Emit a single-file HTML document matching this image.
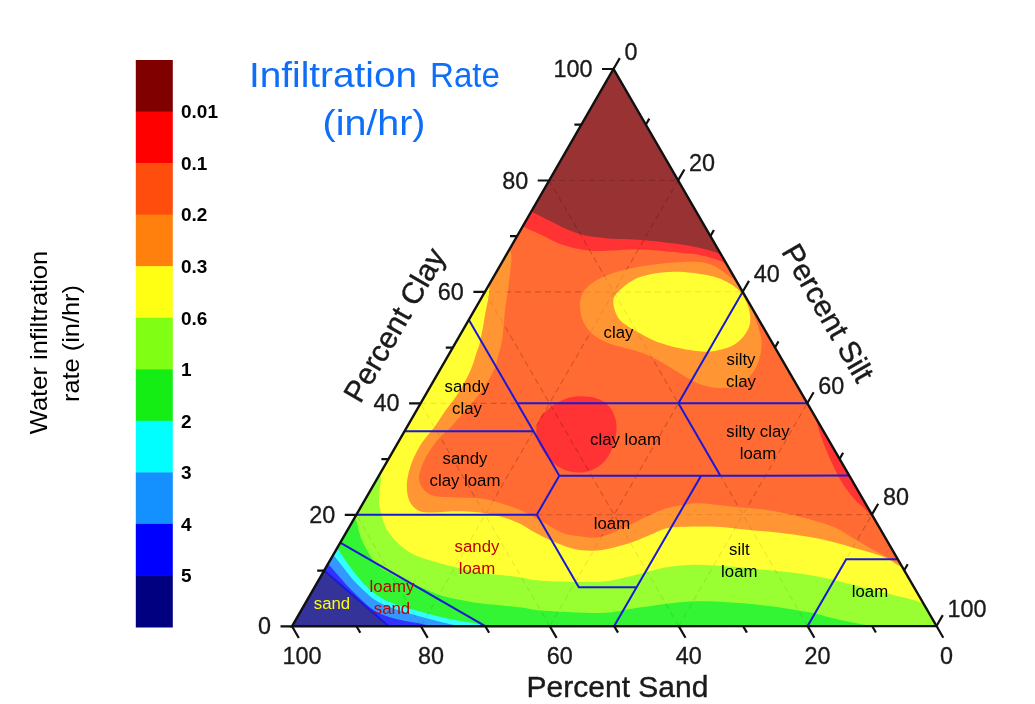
<!DOCTYPE html>
<html lang="en"><head><meta charset="utf-8"><title>Infiltration Rate (in/hr)</title>
<style>html,body{margin:0;padding:0;background:#fff}body{width:1035px;height:704px;overflow:hidden}svg{display:block}text{font-family:"Liberation Sans",sans-serif}</style></head><body>
<svg width="1035" height="704" viewBox="0 0 1035 704">
<rect width="1035" height="704" fill="#fff"/>
<defs><clipPath id="tri"><path d="M292,626.3 L936.5,626 L613.5,69 Z"/></clipPath></defs>
<rect x="135.8" y="60" width="37" height="52" fill="#800000"/>
<rect x="135.8" y="111.5" width="37" height="52" fill="#ff0000"/>
<rect x="135.8" y="163.1" width="37" height="52" fill="#ff4d0d"/>
<rect x="135.8" y="214.6" width="37" height="52" fill="#ff800d"/>
<rect x="135.8" y="266.2" width="37" height="52" fill="#ffff14"/>
<rect x="135.8" y="317.7" width="37" height="52" fill="#80ff14"/>
<rect x="135.8" y="369.3" width="37" height="52" fill="#14ee14"/>
<rect x="135.8" y="420.8" width="37" height="52" fill="#00ffff"/>
<rect x="135.8" y="472.4" width="37" height="52" fill="#1490ff"/>
<rect x="135.8" y="523.9" width="37" height="52" fill="#0000ff"/>
<rect x="135.8" y="575.5" width="37" height="52" fill="#000080"/>
<text x="181" y="118.3" font-size="19" font-weight="bold" fill="#000">0.01</text>
<text x="181" y="169.9" font-size="19" font-weight="bold" fill="#000">0.1</text>
<text x="181" y="221.4" font-size="19" font-weight="bold" fill="#000">0.2</text>
<text x="181" y="273" font-size="19" font-weight="bold" fill="#000">0.3</text>
<text x="181" y="324.5" font-size="19" font-weight="bold" fill="#000">0.6</text>
<text x="181" y="376.1" font-size="19" font-weight="bold" fill="#000">1</text>
<text x="181" y="427.6" font-size="19" font-weight="bold" fill="#000">2</text>
<text x="181" y="479.2" font-size="19" font-weight="bold" fill="#000">3</text>
<text x="181" y="530.7" font-size="19" font-weight="bold" fill="#000">4</text>
<text x="181" y="582.3" font-size="19" font-weight="bold" fill="#000">5</text>
<g clip-path="url(#tri)">
<path d="M292,626.3 L936.5,626 L613.5,69 Z" fill="#ff6b33"/>
<path d="M516,222C517.5,222.9 520.6,225.2 524.9,227.4C529.1,229.6 536,232.3 541.5,234.9C547,237.5 552.7,241 558.2,243.2C563.8,245.4 569.3,246.9 574.8,248.2C580.3,249.4 585.9,250.3 591.4,250.7C596.9,251.1 601.1,250.9 608,250.7C614.9,250.5 625.5,249.6 633,249.5C640.5,249.4 644.3,249.6 653.2,250.2C662.1,250.8 678.2,252.3 686.5,253.2C694.8,254.1 697.6,254.4 703.1,255.7C708.6,256.9 715.8,259.3 719.7,260.7C723.6,262.1 723.1,262.4 726.5,264.3C729.9,266.2 737.8,270.7 740,272L1100,300L613,-100L100,300Z" fill="#ff3333"/>
<path d="M524,207C525.5,207.9 528.9,210.1 533.2,212.4C537.5,214.7 544.4,217.9 549.9,220.7C555.4,223.5 561,226.7 566.5,229.1C572,231.5 577.6,233.5 583.1,234.9C588.6,236.3 594.2,236.7 599.7,237.4C605.2,238.1 609.4,238.6 616.3,239C623.2,239.4 632,239.2 641.3,239.9C650.6,240.6 664.5,242.3 672,243.2C679.5,244.1 681.3,244.3 686.5,245.2C691.7,246.1 698.4,247.6 703.1,248.7C707.8,249.8 709.9,250.4 714.7,252C719.5,253.6 729.1,257 732,258L1100,300L613,-100L100,300Z" fill="#993333"/>
<path d="M580,396.2C585.4,396.1 592.5,396.8 597.5,398.7C602.5,400.6 606.9,403.5 610,407.5C613.1,411.5 615.4,417.1 616.2,422.5C617,427.9 616.5,434.2 615,440C613.5,445.8 610.8,452.7 607.5,457.5C604.2,462.3 599.6,466.2 595,468.7C590.4,471.2 585,472.3 580,472.5C575,472.7 569.6,471.7 565,470C560.4,468.3 556.2,465.8 552.5,462.5C548.8,459.2 545.2,454.6 542.5,450C539.8,445.4 537.1,440 536.5,435C535.9,430 536.8,424.6 539,420C541.2,415.4 545.7,411 550,407.5C554.3,404 560,400.9 565,399C570,397.1 574.6,396.2 580,396.2Z" fill="#ff3333"/>
<path d="M804.5,395C805.2,396.3 807.2,399.3 809,403C810.8,406.7 812.9,411.2 815,417C817.1,422.8 818.9,430.8 821.5,438C824.1,445.2 827.3,453 830.5,460C833.7,467 836.8,473.8 840.5,480C844.2,486.2 848.7,492.4 853,497.5C857.3,502.6 862.5,506.4 866.5,510.5C870.5,514.6 875.2,520.1 877,522L1000,521L1000,395Z" fill="#ff3333"/>
<path d="M356.3,514.8L871.9,514.6M807.6,626.1L549.2,180.5M420.9,626.2L678.1,180.4M420.6,403.4L807.3,403.2M678.7,626.1L484.9,291.9M549.8,626.2L742.7,291.8M484.9,291.9L742.7,291.8M549.8,626.2L420.6,403.4M678.7,626.1L807.3,403.2M549.2,180.5L678.1,180.4M420.9,626.2L356.3,514.8M807.6,626.1L871.9,514.6" fill="none" stroke="#2a0c06" stroke-opacity="0.14" stroke-width="1.1" stroke-dasharray="6,4"/>
<path d="M580,304C580.2,299 581.2,295 584,291C586.8,287 591.3,283.2 597,280C602.7,276.8 609.2,274 618,271.5C626.8,269 639.1,266.6 650,265C660.9,263.4 673.8,262.3 683.3,262C692.8,261.7 700,261.7 706.7,263.3C713.4,264.9 717.6,267.8 723.3,271.7C729,275.6 736.2,280.6 741,287C745.8,293.4 748.8,302.3 752,310C755.2,317.7 758.4,326.8 760,333C761.6,339.2 761.8,342 761.5,347C761.2,352 759.9,358.2 758,363C756.1,367.8 753.5,372.2 750,376C746.5,379.8 742.3,383.5 737,385.5C731.7,387.5 724.7,388.4 718,388C711.3,387.6 704,385.8 697,383C690,380.2 682.6,374.8 676,371C669.4,367.2 663.3,363.1 657.5,360C651.7,356.9 646.5,354.5 641,352.5C635.5,350.5 630.1,349.6 624.6,348C619.1,346.4 613.3,345.2 608,343C602.7,340.8 597.2,338.2 593,334.5C588.8,330.8 585.2,326.1 583,321C580.8,315.9 579.8,309 580,304Z" fill="#ff9633"/>
<path d="M613.3,301.7C613.3,296.7 615.5,294.1 620,290C624.5,285.9 631.1,280.1 640,277C648.9,273.9 662.2,272 673.3,271.7C684.4,271.4 697.8,273.3 706.7,275C715.6,276.7 721.2,278.9 726.7,281.7C732.2,284.5 736.4,287.5 740,291.7C743.6,295.9 746.6,301.4 748.3,306.7C750,312 750.8,318.3 750,323.3C749.2,328.3 746.6,332.8 743.3,336.7C740,340.6 736.1,344.2 730,346.7C723.9,349.2 715,351.4 706.7,351.7C698.4,352 688.3,350 680,348.3C671.7,346.6 663.4,344.2 656.7,341.7C650,339.2 646.1,336.9 640,333.3C633.9,329.7 624.5,325.3 620,320C615.5,314.7 613.3,306.7 613.3,301.7Z" fill="#ffff33"/>
<path d="M507,246C507.6,247 510.1,249.7 510.8,252C511.5,254.3 511.5,256.5 511.4,260C511.3,263.5 510.6,268.2 510,273.2C509.4,278.2 508.8,284.3 508,289.9C507.2,295.4 506.2,301 505.5,306.5C504.8,312 504.4,317.6 503.9,323.1C503.3,328.6 503,334.7 502.2,339.7C501.4,344.7 500.1,348.5 498.9,353.3C497.6,358.1 497.1,362.8 494.7,368.3C492.3,373.8 488,381.2 484.7,386.5C481.4,391.8 478.4,395.4 474.8,399.8C471.2,404.2 467,408.7 463.1,413.1C459.2,417.5 455.8,421.9 451.5,426.4C447.2,430.9 441.8,434.7 437.5,440C433.2,445.3 428.6,451.8 425.5,458C422.4,464.2 419.4,471.9 419,477C418.6,482.1 420.7,485.4 423,488.5C425.3,491.6 427.7,494 433,495.5C438.3,497 447.2,497 455,497.5C462.8,498 472.5,497.6 480,498.5C487.5,499.4 493.3,501.1 500,503C506.7,504.9 514.2,507.6 520,510C525.8,512.4 530,514.8 535,517.5C540,520.2 545,523.5 550,526.2C555,528.9 560,532 565,533.7C570,535.4 574.6,535.6 580,536.2C585.4,536.8 591.4,538.4 597.5,537.5C603.6,536.6 610.7,533.4 616.7,531C622.7,528.6 627.8,526 633.3,523.3C638.8,520.6 644.4,517.5 650,515C655.6,512.5 661.2,510 666.7,508.3C672.2,506.6 677.8,505.8 683.3,505C688.8,504.2 691.7,503 700,503.3C708.3,503.6 722.2,505.6 733.3,506.7C744.4,507.8 755.6,508.3 766.7,510C777.8,511.7 788.9,513.9 800,516.7C811.1,519.5 824.5,523.2 833.3,526.7C842.1,530.2 846.4,534.1 853,538C859.6,541.9 866.8,546.4 873,549.8C879.2,553.2 884.7,555.8 890,558.5C895.3,561.2 902.5,564.8 905,566L1100,760L150,760L100,300Z" fill="#ff9633"/>
<path d="M486,279C486.6,280.2 488.9,282.8 489.3,286C489.7,289.2 488.9,293.8 488.3,298C487.7,302.2 486.5,306.8 485.6,311.5C484.7,316.2 484.1,321.1 483.1,326.4C482.1,331.6 480.9,338.5 479.8,343C478.7,347.5 477.8,349.1 476.4,353.3C475,357.5 473.6,363 471.4,368.3C469.2,373.6 465.9,379.9 463.1,384.9C460.3,389.9 457.9,393.8 454.8,398.2C451.8,402.6 448.1,406.8 444.8,411.5C441.5,416.2 438.7,421.1 434.9,426.4C431.1,431.6 425.6,437.1 421.8,443C418,448.9 414.5,455.5 412,462C409.5,468.5 407.5,475.7 407,482C406.5,488.3 407.2,495.3 409,500C410.8,504.7 414,507.9 417.5,510C421,512.1 423.8,512.3 430,512.5C436.2,512.7 446.7,511.2 455,511.2C463.3,511.2 472.5,511.7 480,512.5C487.5,513.3 493.3,514.3 500,516.2C506.7,518.1 514.2,521 520,523.7C525.8,526.4 530,529.8 535,532.5C540,535.2 545,537.7 550,540C555,542.3 560,544.5 565,546.2C570,547.9 574.6,549.3 580,550C585.4,550.7 591.4,551 597.5,550.5C603.6,550 610.7,548.2 616.7,546.7C622.7,545.2 627.8,543.7 633.3,541.7C638.8,539.8 644.4,537.2 650,535C655.6,532.8 661.2,529.7 666.7,528.3C672.2,526.9 675,527 683.3,526.7C691.6,526.4 705.6,526.2 716.7,526.7C727.8,527.2 738.9,528.9 750,530C761.1,531.1 772.2,531.9 783.3,533.3C794.4,534.7 805.6,536.1 816.7,538.3C827.8,540.5 838.9,543.6 850,546.7C861.1,549.8 875.3,553.7 883.3,556.7C891.3,559.8 893.5,562.6 898,565C902.5,567.4 908,570 910,571L1100,760L150,760L100,300Z" fill="#ffff33"/>
<path d="M374,470C375.1,471.1 379.7,473.2 380.7,476.5C381.7,479.8 380.1,485.4 379.8,489.8C379.5,494.2 378.9,499.6 379,503.1C379.1,506.6 379.9,508.2 380.6,511C381.3,513.8 381.8,516.6 383,520C384.2,523.4 385.5,527.7 388,531.6C390.5,535.5 394.1,539.6 398,543.2C401.9,546.8 406.3,550.4 411.3,553.2C416.3,556 422.4,557.9 427.9,559.8C433.4,561.7 439.6,563.2 444.5,564.5C449.4,565.8 452.8,566.5 457,567.5C461.2,568.5 464.8,569.5 469.7,570.5C474.6,571.5 480.8,572.7 486.3,573.5C491.9,574.3 497.4,574.6 503,575.2C508.6,575.8 513.1,576.4 519.6,577.3C526.1,578.2 528.6,580 542,580.7C555.4,581.4 584.8,582.6 600,581.7C615.2,580.8 622.5,577.9 633.3,575.5C644.1,573.1 655.5,569.2 664.9,567.4C674.3,565.6 681.6,565.2 689.9,564.9C698.2,564.6 706.5,565.1 714.8,565.5C723.1,565.9 731.4,566.5 739.7,567.2C748,567.9 756.3,568.9 764.6,569.7C772.9,570.6 781.5,571.3 789.6,572.3C797.7,573.3 806.5,574.6 813.2,575.7C819.9,576.8 824.4,577.9 829.9,579.1C835.4,580.4 841,581.8 846.5,583.2C852,584.6 857.6,586 863.1,587.4C868.6,588.8 874.2,590.1 879.7,591.5C885.2,592.9 890.8,594.3 896.3,595.7C901.8,597.1 908.9,598.6 913,599.8C917.1,601 917.3,601.4 921,602.8C924.7,604.2 932.7,607.1 935,608L1100,760L150,760Z" fill="#99ff33"/>
<path d="M347,510C348.1,511.1 351.9,514.7 353.5,516.5C355.1,518.3 355.5,518.8 356.4,521C357.2,523.2 357.8,526.7 358.6,529.7C359.5,532.8 360.2,536.1 361.5,539.3C362.8,542.5 364.5,545.8 366.3,549C368.1,552.2 369.9,555.6 372.1,558.6C374.4,561.6 376.9,564.6 379.8,567C382.7,569.4 386.1,571.1 389.5,573C392.9,574.9 396.6,576.8 400,578.5C403.4,580.2 406.7,581.6 410,583C413.3,584.4 415.6,585 420,586.8C424.4,588.6 432,592.3 436.5,594C441,595.7 443.4,596.1 447,597C450.6,597.9 453.2,598.6 458.3,599.6C463.4,600.6 471.2,602.1 477.6,603C484.1,603.9 491.6,604.5 497,605C502.4,605.5 505.3,605.8 510,606.3C514.7,606.8 519.7,607.3 525,608C530.3,608.7 529.5,609.7 542,610.5C554.5,611.3 584.8,613.3 600,613C615.2,612.7 622.5,610 633.3,608.5C644.1,607 655.5,605.2 664.9,604C674.3,602.8 681.6,601.9 689.9,601.5C698.2,601.1 706.5,601.2 714.8,601.5C723.1,601.8 731.4,602.4 739.7,603.1C748,603.8 756.3,604.6 764.6,605.6C772.9,606.6 781.5,607.7 789.6,608.9C797.7,610.1 806.3,611.6 813,613C819.7,614.4 824.3,616.1 829.9,617.5C835.5,618.9 841,620.1 846.5,621.2C852,622.4 859.2,623.6 863.1,624.4C867,625.2 866.9,625.1 870,625.9C873.1,626.7 880,628.5 882,629L150,760Z" fill="#33f533"/>
<path d="M332,541.5C333,542.8 335.9,546.4 337.8,549C339.7,551.6 341.1,554.1 343.1,557C345.1,559.9 347.8,563.6 349.9,566.5C352,569.4 353.6,571.6 356,574.5C358.4,577.4 361,580.9 364,584C367,587.1 370.7,590.4 374,592.9C377.3,595.4 380.4,597.4 383.6,599.2C386.8,601 390.1,602.2 393.3,603.5C396.5,604.8 400.1,605.9 403,606.8C405.9,607.7 408.1,608.2 411,609C413.9,609.8 417.3,610.9 420.5,611.8C423.7,612.7 426.8,613.5 430,614.3C433.2,615.1 436.7,615.9 440,616.7C443.3,617.5 446.7,618.3 450,619C453.3,619.7 456.7,620.4 460,621C463.3,621.6 466.8,622.1 470,622.6C473.2,623.1 476.3,623.6 479,624.2C481.7,624.8 483.3,625.1 486,626C488.7,626.9 493.5,628.9 495,629.5L150,760Z" fill="#33ffff"/>
<path d="M328.5,549C329.5,550.2 332.4,553.8 334.4,556.2C336.3,558.6 338.1,560.8 340.2,563.5C342.3,566.2 344.7,569.3 347,572.2C349.3,575.1 351.3,577.9 354.2,581C357.1,584.1 361,588 364.3,591C367.6,594 370.8,597 374,599.2C377.2,601.5 380.4,603 383.6,604.5C386.8,606 390.1,607.2 393.3,608.4C396.5,609.6 399.9,610.8 403,611.8C406.1,612.8 409,613.5 412,614.3C415,615.1 417.9,616 421,616.8C424.1,617.6 427.3,618.4 430.5,619.2C433.7,620 437,621 440,621.7C443,622.5 445.8,623.1 448.6,623.7C451.4,624.4 454.3,624.8 457,625.6C459.7,626.4 463.7,628 465,628.5L150,760Z" fill="#3399ff"/>
<path d="M323.5,558.5C324.5,559.6 327.6,563.1 329.6,565.4C331.6,567.7 333.3,569.8 335.4,572.2C337.5,574.6 339.9,577.4 342.2,579.9C344.4,582.4 346.8,585.3 348.9,587.5C351,589.7 352.1,590.7 354.7,593.2C357.3,595.7 361.1,599.8 364.3,602.6C367.5,605.5 370.8,608.2 374,610.3C377.2,612.4 380.4,613.8 383.6,615.1C386.8,616.4 390.1,617.4 393.3,618.3C396.5,619.2 399.8,619.8 403,620.4C406.2,621 409.6,621.6 412.6,622.2C415.6,622.8 418.4,623.2 421,623.8C423.6,624.4 425.5,624.7 428,625.6C430.5,626.5 434.7,628.4 436,629L150,760Z" fill="#3333ff"/>
<path d="M317.5,565.5C318.6,566.5 319.5,567.2 324.1,571.2C328.7,575.2 338,583.2 345,589.2C352,595.2 358.7,601 366,607.3C373.3,613.6 384,622.9 388.7,626.9C393.4,630.9 393.1,630.7 394,631.5L150,760Z" fill="#333399"/>
<path d="M356.3,514.8L871.9,514.6M807.6,626.1L549.2,180.5M420.9,626.2L678.1,180.4M420.6,403.4L807.3,403.2M678.7,626.1L484.9,291.9M549.8,626.2L742.7,291.8M484.9,291.9L742.7,291.8M549.8,626.2L420.6,403.4M678.7,626.1L807.3,403.2M549.2,180.5L678.1,180.4M420.9,626.2L356.3,514.8M807.6,626.1L871.9,514.6" fill="none" stroke="#2a0c06" stroke-opacity="0.09" stroke-width="1.1" stroke-dasharray="6,4"/>
<path d="M324.2,570.6L388.7,626.3M340.2,542.7L485.3,626.2M356.3,514.8L536.8,514.8L578.8,587.2L636.8,587.1M404.5,431.2L533.4,431.2M468.8,319.8L559.3,475.7L536.8,514.8M517.3,403.3L807.3,403.2M559.3,475.7L849.3,475.6M701.1,475.7L614.2,626.1M742.7,291.8L678.4,403.3L720.4,475.7M807.6,626.1L846.2,559.2L897.7,559.2" fill="none" stroke="#1a1ad6" stroke-width="2" stroke-linejoin="miter"/>
</g>
<path d="M292,626.3 L936.5,626 L613.5,69 Z" fill="none" stroke="#111" stroke-width="2.4" stroke-linejoin="miter"/>
<path d="M292,626.3l-11.5,0M613.5,69l6.3,-10.9M936.5,626l6.8,11.7M324.2,570.6l-7,0M645.8,124.7l3.5,-6.1M872.1,626l3.8,6.5M356.3,514.8l-11.5,0M678.1,180.4l6.3,-10.9M807.6,626.1l6.8,11.7M388.4,459.1l-7,0M710.4,236.1l3.5,-6.1M743.1,626.1l3.8,6.5M420.6,403.4l-11.5,0M742.7,291.8l6.3,-10.9M678.7,626.1l6.8,11.7M452.8,347.6l-7,0M775,347.5l3.5,-6.1M614.2,626.1l3.8,6.5M484.9,291.9l-11.5,0M807.3,403.2l6.3,-10.9M549.8,626.2l6.8,11.7M517,236.2l-7,0M839.6,458.9l3.5,-6.1M485.3,626.2l3.8,6.5M549.2,180.5l-11.5,0M871.9,514.6l6.3,-10.9M420.9,626.2l6.8,11.7M581.4,124.7l-7,0M904.2,570.3l3.5,-6.1M356.5,626.3l3.8,6.5M613.5,69l-11.5,0M936.5,626l6.3,-10.9M292,626.3l6.8,11.7" fill="none" stroke="#111" stroke-width="2.2"/>
<text x="271" y="634.3" font-size="23.4" text-anchor="end" fill="#1a1a1a" stroke="#1a1a1a" stroke-width="0.3">0</text>
<text x="624.5" y="59.5" font-size="23.4" text-anchor="start" fill="#1a1a1a" stroke="#1a1a1a" stroke-width="0.3">0</text>
<text x="946.5" y="664" font-size="23.4" text-anchor="middle" fill="#1a1a1a" stroke="#1a1a1a" stroke-width="0.3">0</text>
<text x="335.3" y="522.8" font-size="23.4" text-anchor="end" fill="#1a1a1a" stroke="#1a1a1a" stroke-width="0.3">20</text>
<text x="689.1" y="170.9" font-size="23.4" text-anchor="start" fill="#1a1a1a" stroke="#1a1a1a" stroke-width="0.3">20</text>
<text x="817.6" y="664" font-size="23.4" text-anchor="middle" fill="#1a1a1a" stroke="#1a1a1a" stroke-width="0.3">20</text>
<text x="399.6" y="411.4" font-size="23.4" text-anchor="end" fill="#1a1a1a" stroke="#1a1a1a" stroke-width="0.3">40</text>
<text x="753.7" y="282.3" font-size="23.4" text-anchor="start" fill="#1a1a1a" stroke="#1a1a1a" stroke-width="0.3">40</text>
<text x="688.7" y="664" font-size="23.4" text-anchor="middle" fill="#1a1a1a" stroke="#1a1a1a" stroke-width="0.3">40</text>
<text x="463.9" y="299.9" font-size="23.4" text-anchor="end" fill="#1a1a1a" stroke="#1a1a1a" stroke-width="0.3">60</text>
<text x="818.3" y="393.7" font-size="23.4" text-anchor="start" fill="#1a1a1a" stroke="#1a1a1a" stroke-width="0.3">60</text>
<text x="559.8" y="664" font-size="23.4" text-anchor="middle" fill="#1a1a1a" stroke="#1a1a1a" stroke-width="0.3">60</text>
<text x="528.2" y="188.5" font-size="23.4" text-anchor="end" fill="#1a1a1a" stroke="#1a1a1a" stroke-width="0.3">80</text>
<text x="882.9" y="505.1" font-size="23.4" text-anchor="start" fill="#1a1a1a" stroke="#1a1a1a" stroke-width="0.3">80</text>
<text x="430.9" y="664" font-size="23.4" text-anchor="middle" fill="#1a1a1a" stroke="#1a1a1a" stroke-width="0.3">80</text>
<text x="592.5" y="77" font-size="23.4" text-anchor="end" fill="#1a1a1a" stroke="#1a1a1a" stroke-width="0.3">100</text>
<text x="947.5" y="616.5" font-size="23.4" text-anchor="start" fill="#1a1a1a" stroke="#1a1a1a" stroke-width="0.3">100</text>
<text x="302" y="664" font-size="23.4" text-anchor="middle" fill="#1a1a1a" stroke="#1a1a1a" stroke-width="0.3">100</text>
<text x="617.5" y="696.5" font-size="30" text-anchor="middle" fill="#1a1a1a" stroke="#1a1a1a" stroke-width="0.4">Percent Sand</text>
<text transform="translate(403.3,330.2) rotate(-60)" font-size="30" text-anchor="middle" fill="#1a1a1a" stroke="#1a1a1a" stroke-width="0.4">Percent Clay</text>
<text transform="translate(819,318) rotate(60)" font-size="30" text-anchor="middle" fill="#1a1a1a" stroke="#1a1a1a" stroke-width="0.4">Percent Silt</text>
<text x="249" y="86.5" font-size="35" fill="#0f6ef8" textLength="168" lengthAdjust="spacingAndGlyphs">Infiltration</text>
<text x="430" y="86.5" font-size="35" fill="#0f6ef8" textLength="70" lengthAdjust="spacingAndGlyphs">Rate</text>
<text x="374" y="135" font-size="35" text-anchor="middle" fill="#0f6ef8" textLength="103" lengthAdjust="spacingAndGlyphs">(in/hr)</text>
<text transform="translate(46.8,342.5) rotate(-90)" font-size="24" text-anchor="middle" fill="#000" textLength="183.5" lengthAdjust="spacingAndGlyphs">Water infiltration</text>
<text transform="translate(79.3,343.5) rotate(-90)" font-size="24" text-anchor="middle" fill="#000" textLength="117" lengthAdjust="spacingAndGlyphs">rate (in/hr)</text>
<text x="618.5" y="338" font-size="16.8" text-anchor="middle" fill="#000">clay</text>
<text x="741" y="365" font-size="16.8" text-anchor="middle" fill="#000">silty</text>
<text x="741" y="387" font-size="16.8" text-anchor="middle" fill="#000">clay</text>
<text x="467" y="391.5" font-size="16.8" text-anchor="middle" fill="#000">sandy</text>
<text x="467" y="413.5" font-size="16.8" text-anchor="middle" fill="#000">clay</text>
<text x="625.5" y="444.8" font-size="16.8" text-anchor="middle" fill="#000">clay loam</text>
<text x="758" y="437" font-size="16.8" text-anchor="middle" fill="#000">silty clay</text>
<text x="758" y="459" font-size="16.8" text-anchor="middle" fill="#000">loam</text>
<text x="465" y="464" font-size="16.8" text-anchor="middle" fill="#000">sandy</text>
<text x="465" y="486" font-size="16.8" text-anchor="middle" fill="#000">clay loam</text>
<text x="612" y="528.5" font-size="16.8" text-anchor="middle" fill="#000">loam</text>
<text x="477" y="552" font-size="16.8" text-anchor="middle" fill="#c00000">sandy</text>
<text x="477" y="574" font-size="16.8" text-anchor="middle" fill="#c00000">loam</text>
<text x="739.3" y="554.5" font-size="16.8" text-anchor="middle" fill="#000">silt</text>
<text x="739.3" y="576.5" font-size="16.8" text-anchor="middle" fill="#000">loam</text>
<text x="870" y="597" font-size="16.8" text-anchor="middle" fill="#000">loam</text>
<text x="392" y="592" font-size="16.8" text-anchor="middle" fill="#c00000">loamy</text>
<text x="392" y="614" font-size="16.8" text-anchor="middle" fill="#c00000">sand</text>
<text x="332" y="608.5" font-size="16.8" text-anchor="middle" fill="#ffff00">sand</text>
</svg></body></html>
